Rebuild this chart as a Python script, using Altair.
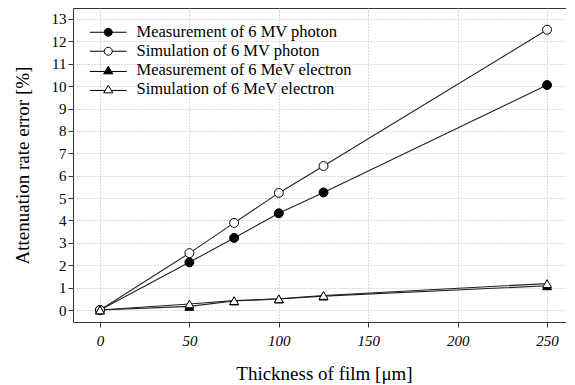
import altair as alt
import pandas as pd

thickness = [0, 50, 75, 100, 125, 250]
meas_photon = [0.0, 2.13, 3.22, 4.32, 5.25, 10.05]
sim_photon = [0.0, 2.54, 3.89, 5.23, 6.43, 12.52]
meas_electron = [0.0, 0.16, 0.40, 0.49, 0.62, 1.08]
sim_electron = [0.0, 0.27, 0.42, 0.50, 0.65, 1.18]

series_names = [
    "Measurement of 6 MV photon",
    "Simulation of 6 MV photon",
    "Measurement of 6 MeV electron",
    "Simulation of 6 MeV electron",
]
series_values = [meas_photon, sim_photon, meas_electron, sim_electron]

x_ticks = [0, 50, 100, 150, 200, 250]
y_ticks = list(range(0, 14))

rows = []
for name, vals in zip(series_names, series_values):
    for t, v in zip(thickness, vals):
        rows.append({"thickness": t, "value": v, "series": name})
df = pd.DataFrame(rows)

SERIF = "Liberation Serif"

x_enc = alt.X(
    "thickness:Q",
    scale=alt.Scale(domain=[-15.1, 260.6], nice=False, zero=False),
    axis=alt.Axis(
        values=x_ticks,
        title="Thickness of film [μm]",
        labelFontStyle="italic",
        labelPadding=6,
        titleBaseline="alphabetic",
        titleY=57,
        titleX=251,
    ),
)
y_enc = alt.Y(
    "value:Q",
    scale=alt.Scale(domain=[-0.536, 13.49], nice=False, zero=False),
    axis=alt.Axis(
        values=y_ticks,
        title="Attenuation rate error [%]",
        labelPadding=2,
        titleBaseline="middle",
        titleX=-51,
    ),
)

fill_range = ["black", "white", "black", "white"]
stroke_range = ["black", "black", "black", "black"]

lines = alt.Chart(df).mark_line(color="#222222", strokeWidth=1.1).encode(
    x=x_enc, y=y_enc, detail="series:N"
)

points = alt.Chart(df).mark_point(
    filled=True, stroke="black", strokeWidth=1, opacity=1
).encode(
    x=x_enc,
    y=y_enc,
    shape=alt.Shape(
        "series:N",
        scale=alt.Scale(domain=series_names,
                        range=["circle", "circle", "triangle-up", "triangle-up"]),
        legend=None,
    ),
    fill=alt.Fill("series:N", scale=alt.Scale(domain=series_names, range=fill_range),
                  legend=None),
    size=alt.Size("series:N", scale=alt.Scale(domain=series_names, range=[80, 80, 100, 100]),
                  legend=None),
)

circ_path = "M-4.6,0L-1,0M1,0L4.6,0M-1,0A1,1,0,1,0,1,0A1,1,0,1,0,-1,0Z"
tri_path = "M-4.6,0.3L-0.85,0.3M0.85,0.3L4.6,0.3M0,-1.0L1.15,0.9L-1.15,0.9Z"

legend_def = alt.Legend(
    title=None,
    orient="none",
    legendX=27,
    legendY=16,
    padding=0,
    labelFont=SERIF,
    labelFontSize=16.5,
    labelColor="black",
    labelLimit=400,
    labelOffset=20,
    symbolSize=64,
    symbolStrokeColor="black",
    symbolStrokeWidth=1,
    symbolOpacity=1,
    rowPadding=2,
    symbolOffset=0,
)

legend_layer = alt.Chart(df).transform_filter("false").mark_point(
    filled=False, color="black", strokeWidth=1, size=64, opacity=1
).encode(
    x=x_enc,
    y=y_enc,
    shape=alt.Shape(
        "series:N",
        scale=alt.Scale(domain=series_names,
                        range=[circ_path, circ_path, tri_path, tri_path]),
        legend=legend_def,
    ),
    fill=alt.Fill("series:N", scale=alt.Scale(domain=series_names, range=fill_range),
                  legend=legend_def),
    stroke=alt.Stroke("series:N", scale=alt.Scale(domain=series_names, range=stroke_range),
                      legend=legend_def),
)

chart = alt.layer(lines, points, legend_layer).resolve_scale(
    shape="independent", fill="independent", size="independent", stroke="independent"
).properties(
    width=493,
    height=314,
    autosize=alt.AutoSizeParams(type="none"),
    padding={"left": 65, "top": 0, "right": 0, "bottom": 63},
    background="white",
).configure_view(
    stroke="#333333", strokeWidth=1
).configure_axis(
    domain=False,
    grid=True,
    gridColor="#b8b8b8",
    gridDash=[1, 2],
    gridWidth=1,
    tickColor="#333333",
    tickSize=5,
    labelFont=SERIF,
    labelFontSize=15,
    labelColor="black",
    titleFont=SERIF,
    titleFontSize=19,
    titleFontWeight="normal",
    titleColor="black",
)

chart.save("out.html", embed_options={"renderer": "svg", "actions": False})
